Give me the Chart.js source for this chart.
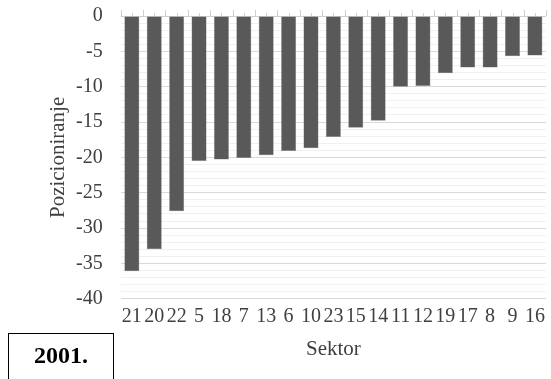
<!DOCTYPE html>
<html>
<head>
<meta charset="utf-8">
<script src="https://cdn.jsdelivr.net/npm/chart.js@4/dist/chart.umd.min.js"></script>
<style>
  body { margin: 0; background: #fff; }
  #wrap { position: relative; width: 551px; height: 379px; overflow: hidden; }
  #myChart { position: absolute; left: 0; top: -14px; }
  #year {
    position: absolute; left: 8px; top: 333px; width: 106px; height: 60px;
    border: 1px solid #000; box-sizing: border-box;
    font: bold 24px/28px "Liberation Serif", serif; text-align: center; padding-top: 7px; color: #000;
  }
</style>
</head>
<body>
<div id="wrap">
  <canvas id="myChart" width="551" height="393"></canvas>
  <div id="year">2001.</div>
</div>
<script>
const sektori = ["21", "20", "22", "5", "18", "7", "13", "6", "10", "23", "15", "14", "11", "12", "19", "17", "8", "9", "16"];
const pozicije = [-36.1, -33.0, -27.6, -20.5, -20.3, -20.1, -19.7, -19.1, -18.7, -17.1, -15.8, -14.8, -10.0, -9.9, -8.1, -7.3, -7.3, -5.7, -5.6];
const yMin = -40;
const yMax = 0;
const yNaslov = "Pozicioniranje";

// os na nuli s crticama (kao u Excelu) + naslov y osi
const topAxis = {
	id: "topAxis",
	beforeDatasetsDraw(chart) {
		let x = chart.scales.x;
		let y = chart.scales.y.getPixelForValue(0);
		let c = chart.ctx;
		c.save();
		c.strokeStyle = "#d0d0d0";
		c.lineWidth = 1;
		c.beginPath();
		c.moveTo(x.left, y + 0.5);
		c.lineTo(x.right, y + 0.5);
		let w = (x.right - x.left) / sektori.length;
		for (let i = 0; i <= sektori.length; i++) {
			let px = Math.round(x.left + i * w) + 0.5;
			c.moveTo(px, y);
			c.lineTo(px, y - 6);
			if (i < sektori.length) {
				let mx = Math.round(x.left + (i + 0.5) * w) + 0.5;
				c.moveTo(mx, y);
				c.lineTo(mx, y - 3);
			}
		}
		c.stroke();
		c.restore();
	},
	afterDraw(chart) {
		let a = chart.chartArea;
		let c = chart.ctx;
		c.save();
		c.translate(a.left - 62, (a.top + a.bottom) / 2);
		c.rotate(-Math.PI / 2);
		c.fillStyle = "#404040";
		c.font = "21px 'Liberation Serif'";
		c.textAlign = "center";
		c.textBaseline = "middle";
		c.fillText(yNaslov, 0, 0);
		c.restore();
	}
};

let chart = new Chart(document.getElementById("myChart"), {
	type: "bar",
	data: {
		labels: sektori,
		datasets: [{
			data: pozicije,
			backgroundColor: "#595959",
			borderColor: "#7f7f7f",
			borderWidth: 0.5,
			categoryPercentage: 1,
			barPercentage: 0.67
		}]
	},
	plugins: [topAxis],
	options: {
		responsive: false,
		animation: false,
		layout: { padding: { top: 0, right: 4, left: 58, bottom: 17 } },
		plugins: { legend: { display: false }, tooltip: { enabled: false } },
		scales: {
			x: {
				grid: { display: false, drawTicks: false },
				border: { display: false },
				ticks: { color: "#404040", font: { family: "Liberation Serif", size: 20 }, padding: 6, maxRotation: 0, autoSkip: false },
				title: { display: true, text: "Sektor", color: "#404040", font: { family: "Liberation Serif", size: 21 }, padding: { top: 2, bottom: 0 } }
			},
			y: {
				min: yMin,
				max: yMax,
				grid: {
					color: ctx => ctx.tick.value % 5 === 0 ? "#d9d9d9" : "#f0f0f0",
					drawTicks: false
				},
				border: { display: false },
				ticks: {
					stepSize: 1,
					autoSkip: false,
					padding: 18,
					color: "#404040",
					font: { family: "Liberation Serif", size: 20 },
					callback: v => v % 5 === 0 ? v : ""
				}
			}
		}
	}
});
</script>
</body>
</html>
